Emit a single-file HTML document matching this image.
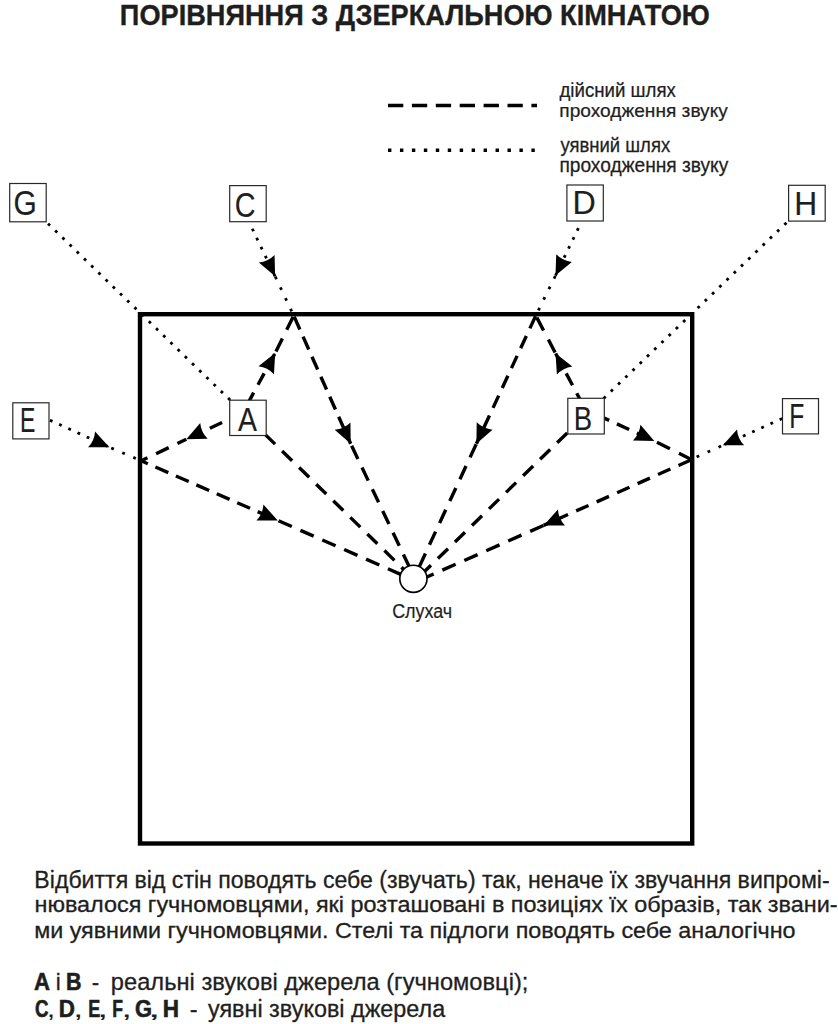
<!DOCTYPE html>
<html><head><meta charset="utf-8"><style>
html,body{margin:0;padding:0;background:#fff;overflow:hidden;width:838px;height:1024px;}
svg{display:block;}
text{font-family:"Liberation Sans",sans-serif;}
</style></head><body>
<svg width="838" height="1024" viewBox="0 0 838 1024">
<path d="M44.69 220.43L231.47 401.38" stroke="#000" stroke-width="2.8" stroke-dasharray="2.8 7.23" stroke-dashoffset="5.43" fill="none"/>
<path d="M249.44 222.79L275.1 276.3" stroke="#000" stroke-width="2.8" stroke-dasharray="2.8 7.2" stroke-dashoffset="3.4" fill="none"/>
<path d="M275.1 276.3L293.7 315.6" stroke="#000" stroke-width="2.8" stroke-dasharray="2.8 9.05" stroke-dashoffset="11.4" fill="none"/>
<path d="M581.27 222.09L555.5 275.6" stroke="#000" stroke-width="2.8" stroke-dasharray="2.8 7.23" stroke-dashoffset="3.43" fill="none"/>
<path d="M555.5 275.6L535.8 315.6" stroke="#000" stroke-width="2.8" stroke-dasharray="2.8 9" stroke-dashoffset="11.35" fill="none"/>
<path d="M789.73 219.54L602.02 399.97" stroke="#000" stroke-width="2.8" stroke-dasharray="2.8 7.23" stroke-dashoffset="5.43" fill="none"/>
<path d="M45.74 418.32L109.4 447.2" stroke="#000" stroke-width="2.8" stroke-dasharray="2.8 7.3" stroke-dashoffset="5.5" fill="none"/>
<path d="M109.4 447.2L141.2 460.8" stroke="#000" stroke-width="2.8" stroke-dasharray="2.8 9.17" stroke-dashoffset="9.95" fill="none"/>
<path d="M786.37 416.63L722.8 445.3" stroke="#000" stroke-width="2.8" stroke-dasharray="2.8 7.25" stroke-dashoffset="5.45" fill="none"/>
<path d="M722.8 445.3L691.2 459.4" stroke="#000" stroke-width="2.8" stroke-dasharray="2.8 9.2" stroke-dashoffset="10.14" fill="none"/>
<path d="M244.48 409.65L275.2 353" stroke="#000" stroke-width="3.4" stroke-dasharray="13 9" stroke-dashoffset="15.7" fill="none"/>
<path d="M275.2 353L293.7 315.6" stroke="#000" stroke-width="3.4" stroke-dasharray="14.5 9.8" stroke-dashoffset="22.6" fill="none"/>
<path d="M293.7 315.6L350.7 443.8" stroke="#000" stroke-width="3.4" stroke-dasharray="14 7.9" stroke-dashoffset="20.73" fill="none"/>
<path d="M350.7 443.8L415.1 579" stroke="#000" stroke-width="3.4" stroke-dasharray="14.5 9.56" stroke-dashoffset="21.84" fill="none"/>
<path d="M232.97 417.43L186.3 439.2" stroke="#000" stroke-width="3.4" stroke-dasharray="13.5 8.5" stroke-dashoffset="10" fill="none"/>
<path d="M186.3 439.2L141.2 460.8" stroke="#000" stroke-width="3.4" stroke-dasharray="14 9.6" stroke-dashoffset="4.11" fill="none"/>
<path d="M141.2 460.8L277.8 520.4" stroke="#000" stroke-width="3.4" stroke-dasharray="14 8.3" stroke-dashoffset="6.75" fill="none"/>
<path d="M277.8 520.4L413.3 579.9" stroke="#000" stroke-width="3.4" stroke-dasharray="14.5 9.4" stroke-dashoffset="23.1" fill="none"/>
<path d="M257.4 426.93L413.3 578.7" stroke="#000" stroke-width="3.4" stroke-dasharray="14 9.8" stroke-dashoffset="13.14" fill="none"/>
<path d="M584.72 408.3L555.5 353.2" stroke="#000" stroke-width="3.4" stroke-dasharray="13.5 9" stroke-dashoffset="18.95" fill="none"/>
<path d="M555.5 353.2L535.8 315.6" stroke="#000" stroke-width="3.4" stroke-dasharray="14.5 10.3" stroke-dashoffset="23.92" fill="none"/>
<path d="M535.8 315.6L476.4 443.7" stroke="#000" stroke-width="3.4" stroke-dasharray="13.5 8.4" stroke-dashoffset="21.32" fill="none"/>
<path d="M476.4 443.7L413.6 579" stroke="#000" stroke-width="3.4" stroke-dasharray="14.5 9.6" stroke-dashoffset="23.56" fill="none"/>
<path d="M593.88 413.42L654.3 441" stroke="#000" stroke-width="3.4" stroke-dasharray="13.5 8.5" stroke-dashoffset="18.72" fill="none"/>
<path d="M654.3 441L691.2 459.4" stroke="#000" stroke-width="3.4" stroke-dasharray="14.5 10.1" stroke-dashoffset="21.65" fill="none"/>
<path d="M691.2 459.8L543.6 525.4" stroke="#000" stroke-width="3.4" stroke-dasharray="13.5 8.9" stroke-dashoffset="22.03" fill="none"/>
<path d="M543.6 525.4L413.3 583" stroke="#000" stroke-width="3.4" stroke-dasharray="14.5 9.5" stroke-dashoffset="23.82" fill="none"/>
<path d="M575.81 424.64L413.3 582.4" stroke="#000" stroke-width="3.4" stroke-dasharray="14 9.74" stroke-dashoffset="11.74" fill="none"/>
<rect x="140" y="314.2" width="552.2" height="529.3" fill="none" stroke="#000" stroke-width="4.4"/>
<path transform="translate(275.1 276.3) rotate(64.53)" d="M0 0L-19.5 -8.7Q-16.3 0 -19.5 8.7Z" fill="#000"/>
<path transform="translate(555.5 275.6) rotate(115.97)" d="M0 0L-19.5 -8.7Q-16.3 0 -19.5 8.7Z" fill="#000"/>
<path transform="translate(109.4 447.2) rotate(23.78)" d="M0 0L-19.5 -8.7Q-16.3 0 -19.5 8.7Z" fill="#000"/>
<path transform="translate(722.8 445.3) rotate(155.84)" d="M0 0L-19.5 -8.7Q-16.3 0 -19.5 8.7Z" fill="#000"/>
<path transform="translate(275.2 353) rotate(-62.6)" d="M0 0L-19.5 -8.7Q-16.3 0 -19.5 8.7Z" fill="#000"/>
<path transform="translate(350.7 443.8) rotate(65.28)" d="M0 0L-19.5 -8.7Q-16.3 0 -19.5 8.7Z" fill="#000"/>
<path transform="translate(186.3 439.2) rotate(154.7)" d="M0 0L-19.5 -8.7Q-16.3 0 -19.5 8.7Z" fill="#000"/>
<path transform="translate(277.8 520.4) rotate(23.64)" d="M0 0L-19.5 -8.7Q-16.3 0 -19.5 8.7Z" fill="#000"/>
<path transform="translate(555.5 353.2) rotate(-117.8)" d="M0 0L-19.5 -8.7Q-16.3 0 -19.5 8.7Z" fill="#000"/>
<path transform="translate(476.4 443.7) rotate(114.89)" d="M0 0L-19.5 -8.7Q-16.3 0 -19.5 8.7Z" fill="#000"/>
<path transform="translate(654.3 441) rotate(25.52)" d="M0 0L-19.5 -8.7Q-16.3 0 -19.5 8.7Z" fill="#000"/>
<path transform="translate(543.6 525.4) rotate(156.09)" d="M0 0L-19.5 -8.7Q-16.3 0 -19.5 8.7Z" fill="#000"/>
<rect x="9.7" y="183.5" width="36.5" height="38.3" fill="#fff" stroke="#2a2a2a" stroke-width="1.2"/>
<rect x="229.7" y="185.6" width="36.5" height="36.1" fill="#fff" stroke="#2a2a2a" stroke-width="1.2"/>
<rect x="566.9" y="185" width="36.4" height="36" fill="#fff" stroke="#2a2a2a" stroke-width="1.2"/>
<rect x="788.6" y="185.3" width="36.6" height="35.8" fill="#fff" stroke="#2a2a2a" stroke-width="1.2"/>
<rect x="12.8" y="402.8" width="36.2" height="36.1" fill="#fff" stroke="#2a2a2a" stroke-width="1.2"/>
<rect x="782.5" y="398.6" width="36" height="35.3" fill="#fff" stroke="#2a2a2a" stroke-width="1.2"/>
<rect x="229.7" y="400.2" width="36.5" height="35.3" fill="#fff" stroke="#2a2a2a" stroke-width="1.2"/>
<rect x="567.8" y="398.3" width="36.5" height="35.7" fill="#fff" stroke="#2a2a2a" stroke-width="1.2"/>
<circle cx="413.4" cy="578.8" r="13.6" fill="#fff" stroke="#000" stroke-width="1.6"/>
<text id="title" transform="translate(119.87 25) scale(0.9347 1)" x="0" y="0" font-size="29.07" font-weight="bold" stroke="#1e1e1e" stroke-width="0.35" stroke-linejoin="round" fill="#1e1e1e" xml:space="preserve">ПОРІВНЯННЯ З ДЗЕРКАЛЬНОЮ КІМНАТОЮ</text>
<text id="lg1" transform="translate(559.46 96.8) scale(0.9664 1)" x="0" y="0" font-size="19.32" stroke="#1e1e1e" stroke-width="0.25" stroke-linejoin="round" fill="#1e1e1e" xml:space="preserve">дійсний шлях</text>
<text id="lg2" transform="translate(559.36 116.6) scale(0.9999 1)" x="0" y="0" font-size="19.13" stroke="#1e1e1e" stroke-width="0.25" stroke-linejoin="round" fill="#1e1e1e" xml:space="preserve">проходження звуку</text>
<text id="lg3" transform="translate(560.39 151.8) scale(0.9487 1)" x="0" y="0" font-size="19.51" stroke="#1e1e1e" stroke-width="0.25" stroke-linejoin="round" fill="#1e1e1e" xml:space="preserve">уявний шлях</text>
<text id="lg4" transform="translate(559.39 172) scale(0.9831 1)" x="0" y="0" font-size="19.51" stroke="#1e1e1e" stroke-width="0.25" stroke-linejoin="round" fill="#1e1e1e" xml:space="preserve">проходження звуку</text>
<text id="sl" transform="translate(392.16 618.4) scale(0.9274 1)" x="0" y="0" font-size="19.33" stroke="#1e1e1e" stroke-width="0.2" stroke-linejoin="round" fill="#1e1e1e" xml:space="preserve">Слухач</text>
<text id="p1" transform="translate(34.37 887.5) scale(0.9998 1)" x="0" y="0" font-size="23.11" stroke="#1e1e1e" stroke-width="0.3" stroke-linejoin="round" fill="#1e1e1e" xml:space="preserve">Відбиття від стін поводять себе (звучать) так, неначе їх звучання випромі-</text>
<text id="p2" transform="translate(34.49 912.3) scale(1.0936 1)" x="0" y="0" font-size="21.4" stroke="#1e1e1e" stroke-width="0.3" stroke-linejoin="round" fill="#1e1e1e" xml:space="preserve">нювалося гучномовцями, які розташовані в позиціях їх образів, так звани-</text>
<text id="p3" transform="translate(34.15 937.5) scale(1.0713 1)" x="0" y="0" font-size="21.78" stroke="#1e1e1e" stroke-width="0.3" stroke-linejoin="round" fill="#1e1e1e" xml:space="preserve">ми уявними гучномовцями. Стелі та підлоги поводять себе аналогічно</text>
<text id="p4a" transform="translate(33.93 990) scale(0.9282 1)" x="0" y="0" font-size="23.84" font-weight="bold" stroke="#1e1e1e" stroke-width="0.6" stroke-linejoin="round" fill="#1e1e1e" xml:space="preserve">A</text>
<text id="p4b" transform="translate(55.77 990) scale(0.9377 1)" x="0" y="0" font-size="23.84" stroke="#1e1e1e" stroke-width="0.3" stroke-linejoin="round" fill="#1e1e1e" xml:space="preserve">і</text>
<text id="p4c" transform="translate(66.01 990) scale(0.8985 1)" x="0" y="0" font-size="23.84" font-weight="bold" stroke="#1e1e1e" stroke-width="0.6" stroke-linejoin="round" fill="#1e1e1e" xml:space="preserve">B</text>
<text id="p4d" transform="translate(91.81 990) scale(0.9339 1)" x="0" y="0" font-size="23.84" stroke="#1e1e1e" stroke-width="0.3" stroke-linejoin="round" fill="#1e1e1e" xml:space="preserve">-</text>
<text id="p4e" transform="translate(110.86 990) scale(0.9928 1)" x="0" y="0" font-size="23.84" stroke="#1e1e1e" stroke-width="0.3" stroke-linejoin="round" fill="#1e1e1e" xml:space="preserve">реальні звукові джерела (гучномовці);</text>
<text id="p5a" transform="translate(35.02 1017.2) scale(0.8097 1)" x="0" y="0" font-size="23.11" font-weight="bold" stroke="#1e1e1e" stroke-width="0.6" stroke-linejoin="round" fill="#1e1e1e" xml:space="preserve">C</text>
<text id="p5b" transform="translate(46.79 1017.2) scale(1.3179 1)" x="0" y="0" font-size="23.11" fill="#1e1e1e" xml:space="preserve">,</text>
<text id="p5c" transform="translate(58.84 1017.2) scale(0.9688 1)" x="0" y="0" font-size="23.11" font-weight="bold" stroke="#1e1e1e" stroke-width="0.6" stroke-linejoin="round" fill="#1e1e1e" xml:space="preserve">D</text>
<text id="p5d" transform="translate(73.37 1017.2) scale(1.5462 1)" x="0" y="0" font-size="23.11" fill="#1e1e1e" xml:space="preserve">,</text>
<text id="p5e" transform="translate(88.13 1017.2) scale(0.7795 1)" x="0" y="0" font-size="23.11" font-weight="bold" stroke="#1e1e1e" stroke-width="0.6" stroke-linejoin="round" fill="#1e1e1e" xml:space="preserve">E</text>
<text id="p5f" transform="translate(96.95 1017.2) scale(1.7592 1)" x="0" y="0" font-size="23.11" fill="#1e1e1e" xml:space="preserve">,</text>
<text id="p5g" transform="translate(112.14 1017.2) scale(0.7603 1)" x="0" y="0" font-size="23.11" font-weight="bold" stroke="#1e1e1e" stroke-width="0.6" stroke-linejoin="round" fill="#1e1e1e" xml:space="preserve">F</text>
<text id="p5h" transform="translate(121.33 1017.2) scale(1.6897 1)" x="0" y="0" font-size="23.11" fill="#1e1e1e" xml:space="preserve">,</text>
<text id="p5i" transform="translate(134.95 1017.2) scale(0.9459 1)" x="0" y="0" font-size="23.11" font-weight="bold" stroke="#1e1e1e" stroke-width="0.6" stroke-linejoin="round" fill="#1e1e1e" xml:space="preserve">G</text>
<text id="p5j" transform="translate(147.61 1017.2) scale(2.0616 1)" x="0" y="0" font-size="23.11" fill="#1e1e1e" xml:space="preserve">,</text>
<text id="p5k" transform="translate(162.85 1017.2) scale(0.9749 1)" x="0" y="0" font-size="23.11" font-weight="bold" stroke="#1e1e1e" stroke-width="0.6" stroke-linejoin="round" fill="#1e1e1e" xml:space="preserve">H</text>
<text id="p5l" transform="translate(189.87 1017.2) scale(1.0206 1)" x="0" y="0" font-size="23.11" stroke="#1e1e1e" stroke-width="0.3" stroke-linejoin="round" fill="#1e1e1e" xml:space="preserve">-</text>
<text id="p5m" transform="translate(208.01 1017.2) scale(1.0120 1)" x="0" y="0" font-size="23.11" stroke="#1e1e1e" stroke-width="0.3" stroke-linejoin="round" fill="#1e1e1e" xml:space="preserve">уявні звукові джерела</text>
<text id="bxG" transform="translate(13.44 214.6) scale(0.8627 1)" x="0" y="0" font-size="34.67" stroke="#1e1e1e" stroke-width="0.15" stroke-linejoin="round" fill="#1e1e1e" xml:space="preserve">G</text>
<text id="bxC" transform="translate(234.8 216.5) scale(0.8138 1)" x="0" y="0" font-size="35.32" stroke="#1e1e1e" stroke-width="0.15" stroke-linejoin="round" fill="#1e1e1e" xml:space="preserve">C</text>
<text id="bxD" transform="translate(572.51 214.1) scale(0.9495 1)" x="0" y="0" font-size="33.94" stroke="#1e1e1e" stroke-width="0.15" stroke-linejoin="round" fill="#1e1e1e" xml:space="preserve">D</text>
<text id="bxH" transform="translate(794.24 215) scale(0.9510 1)" x="0" y="0" font-size="33.43" stroke="#1e1e1e" stroke-width="0.15" stroke-linejoin="round" fill="#1e1e1e" xml:space="preserve">H</text>
<text id="bxE" transform="translate(19.97 431.8) scale(0.6684 1)" x="0" y="0" font-size="34.45" stroke="#1e1e1e" stroke-width="0.15" stroke-linejoin="round" fill="#1e1e1e" xml:space="preserve">E</text>
<text id="bxF" transform="translate(789.18 428) scale(0.7076 1)" x="0" y="0" font-size="34.74" stroke="#1e1e1e" stroke-width="0.15" stroke-linejoin="round" fill="#1e1e1e" xml:space="preserve">F</text>
<text id="bxA" transform="translate(238.04 430.8) scale(0.8463 1)" x="0" y="0" font-size="33.58" stroke="#1e1e1e" stroke-width="0.15" stroke-linejoin="round" fill="#1e1e1e" xml:space="preserve">A</text>
<text id="bxB" transform="translate(573.64 429.5) scale(0.8062 1)" x="0" y="0" font-size="34.16" stroke="#1e1e1e" stroke-width="0.15" stroke-linejoin="round" fill="#1e1e1e" xml:space="preserve">B</text>
<path d="M388 105.5H537" stroke="#000" stroke-width="3.4" stroke-dasharray="15.3 8.6" fill="none"/>
<path d="M388 150.3H537" stroke="#000" stroke-width="3.4" stroke-dasharray="3.4 8.55" fill="none"/>
</svg>
</body></html>
